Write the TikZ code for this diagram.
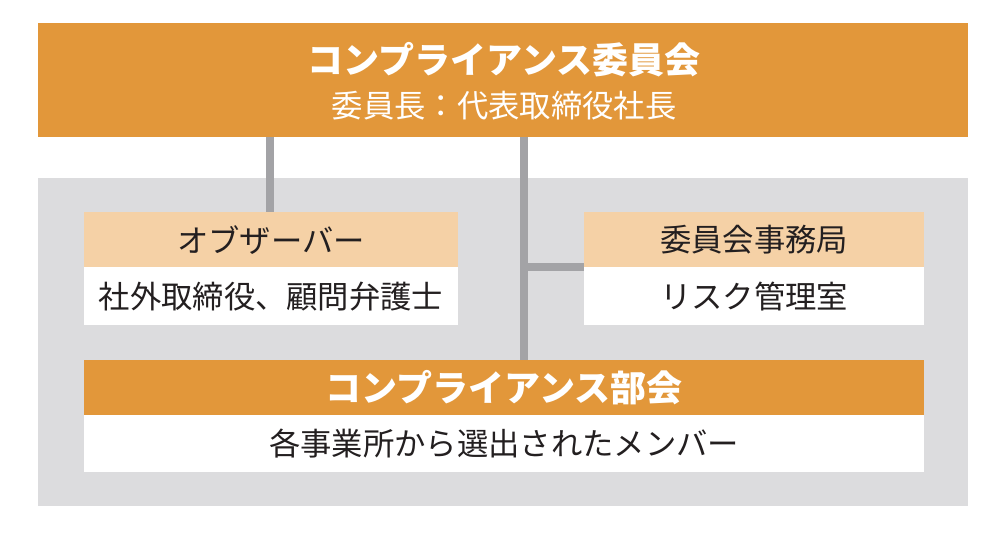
\documentclass[tikz,border=0pt]{standalone}
\usepackage{fontspec}
\setmainfont{Noto Sans CJK JP}
\definecolor{org}{HTML}{E2973A}
\definecolor{lorg}{HTML}{F5D1A6}
\definecolor{pan}{HTML}{DCDCDE}
\definecolor{con}{HTML}{A3A3A6}
\definecolor{txt}{HTML}{231F20}
\begin{document}
\begin{tikzpicture}[x=0.75pt,y=-0.75pt,
  big/.style={font=\bfseries\fontsize{27}{31}\selectfont,text=white},
  small/.style={font=\fontsize{23.5}{27}\selectfont},
  conn/.style={draw=con,line width=6pt}]
\useasboundingbox[fill=white] (0,0) rectangle (1000,534);
\fill[pan] (38,178) rectangle (968,506);
\fill[org] (38,23) rectangle (968,137);
\node[big] (t1) at (504,60) {コンプライアンス委員会};
\node[small,text=white] (t2) at (504,106) {委員長：代表取締役社長};
\coordinate (top1) at (270,137);
\coordinate (top2) at (524,137);
\coordinate (obs) at (270,212);
\coordinate (sub) at (524,360);
\coordinate (jct) at (524,267);
\coordinate (sec) at (584,267);
\draw[conn] (top1) -- (obs);
\draw[conn] (top2) -- (sub);
\draw[conn] (jct) -- (sec);
\fill[lorg] (84,212) rectangle (458,267);
\fill[white] (84,267) rectangle (458,325);
\node[small,text=txt] (o1) at (271,240) {オブザーバー};
\node[small,text=txt] (o2) at (271,297) {社外取締役、顧問弁護士};
\fill[lorg] (584,212) rectangle (924,267);
\fill[white] (584,267) rectangle (924,325);
\node[small,text=txt] (s1) at (754,240) {委員会事務局};
\node[small,text=txt] (s2) at (754,297) {リスク管理室};
\fill[org] (84,360) rectangle (924,415);
\fill[white] (84,415) rectangle (924,472);
\node[big] (b1) at (504,388) {コンプライアンス部会};
\node[small,text=txt] (b2) at (504,444) {各事業所から選出されたメンバー};
\end{tikzpicture}
\end{document}
